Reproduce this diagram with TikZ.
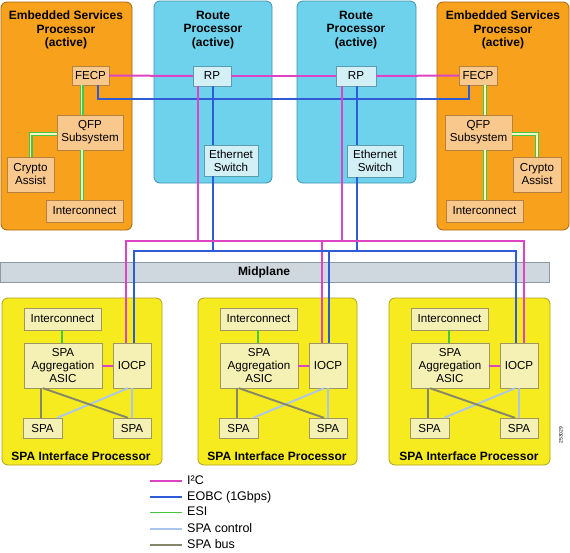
\documentclass[tikz,border=0pt]{standalone}
\usepackage{fontspec}
\setmainfont{Liberation Sans}
\usetikzlibrary{positioning,calc}

\definecolor{espfill}{HTML}{F7A11C}
\definecolor{espline}{HTML}{A8640E}
\definecolor{espboxfill}{HTML}{F9C88C}
\definecolor{espboxline}{HTML}{B8803E}
\definecolor{rpfill}{HTML}{6ED2EC}
\definecolor{rpline}{HTML}{3C94AE}
\definecolor{rpboxfill}{HTML}{D2F0F6}
\definecolor{rpboxline}{HTML}{5B9DAE}
\definecolor{midfill}{HTML}{CFD8DF}
\definecolor{midline}{HTML}{8E989F}
\definecolor{sipfill}{HTML}{F6EB1E}
\definecolor{sipline}{HTML}{B0A21A}
\definecolor{sipboxfill}{HTML}{F5F1B4}
\definecolor{sipboxline}{HTML}{9C9764}
\definecolor{colI2C}{HTML}{DC44C4}
\definecolor{colEOBC}{HTML}{2E5CD8}
\definecolor{colESI}{HTML}{44C844}
\definecolor{colESIcore}{HTML}{F4F8C8}
\definecolor{colSPActl}{HTML}{AAC6EE}
\definecolor{colSPAbus}{HTML}{86866A}

\begin{document}
\begin{tikzpicture}[x=1pt, y=-1pt, font=\fontsize{11.6}{13}\selectfont]
  \tikzstyle{panel}=[rounded corners=6pt, line width=0.8pt, inner sep=0pt]
  \tikzstyle{title}=[font=\fontsize{12}{13.5}\selectfont\bfseries, align=center, inner sep=0pt]
  \tikzstyle{espunit}=[draw=espboxline, fill=espboxfill, inner sep=0pt, align=center]
  \tikzstyle{rpunit}=[draw=rpboxline, fill=rpboxfill, inner sep=0pt, align=center]
  \tikzstyle{sipunit}=[draw=sipboxline, fill=sipboxfill, inner sep=0pt, align=center]
  \tikzstyle{legend}=[anchor=west, inner sep=0pt, text height=1.5ex, text depth=.25ex, font=\fontsize{12.5}{14}\selectfont]
  \tikzstyle{i2c}=[draw=colI2C, line width=2pt]
  \tikzstyle{eobc}=[draw=colEOBC, line width=2pt]
  \tikzstyle{esi}=[draw=colESI, double=colESIcore, double distance=1.4pt, line width=1.3pt]
  \tikzstyle{esithin}=[draw=colESI, line width=1.5pt]
  \tikzstyle{spactl}=[draw=colSPActl, line width=1.9pt]
  \tikzstyle{spabus}=[draw=colSPAbus, line width=1.9pt]

  \useasboundingbox (0,0) rectangle (570,552);

  % Painéis
  \node[panel, draw=espline, fill=espfill, minimum width=131, minimum height=228] (esp1) at (66.5,116) {};
  \node[panel, draw=rpline, fill=rpfill, minimum width=118, minimum height=182] (rpp1) at (213,92) {};
  \node[panel, draw=rpline, fill=rpfill, minimum width=119, minimum height=182] (rpp2) at (356.5,92) {};
  \node[panel, draw=espline, fill=espfill, minimum width=132, minimum height=228] (esp2) at (503,116) {};
  \node[panel, rounded corners=0pt, draw=midline, fill=midfill, minimum width=549, minimum height=20] (midplane) at (274.5,272) {};
  \node[panel, draw=sipline, fill=sipfill, minimum width=160, minimum height=167] (sip1) at (82,381.5) {};
  \node[panel, draw=sipline, fill=sipfill, minimum width=159, minimum height=167] (sip2) at (277.5,381.5) {};
  \node[panel, draw=sipline, fill=sipfill, minimum width=161, minimum height=167] (sip3) at (469.5,381.5) {};

  % Títulos
  \node[title] (esptitle1) at (66,30) {Embedded Services\\Processor\\(active)};
  \node[title] (rptitle1) at (213,30) {Route\\Processor\\(active)};
  \node[title] (rptitle2) at (356,30) {Route\\Processor\\(active)};
  \node[title] (esptitle2) at (503,30) {Embedded Services\\Processor\\(active)};
  \node[title] (midtitle) at (264,272) {Midplane};
  \node[title] (siptitle1) at (81,456) {SPA Interface Processor};
  \node[title] (siptitle2) at (277,456) {SPA Interface Processor};
  \node[title] (siptitle3) at (469,456) {SPA Interface Processor};

  % Blocos
  \node[espunit, minimum width=37, minimum height=19] (fecp1) at (90.5,75.5) {FECP};
  \node[espunit, minimum width=66, minimum height=35] (qfp1) at (90,132.5) {QFP\\Subsystem};
  \node[espunit, minimum width=47, minimum height=35] (crypto1) at (30.5,174.5) {Crypto\\Assist};
  \node[espunit, minimum width=77, minimum height=22] (espic1) at (84.5,211) {Interconnect};
  \node[rpunit, minimum width=38, minimum height=20] (rp1) at (212,76) {RP};
  \node[rpunit, minimum width=54, minimum height=31] (sw1) at (231,160.5) {Ethernet\\Switch};
  \node[rpunit, minimum width=40, minimum height=20] (rp2) at (356,76) {RP};
  \node[rpunit, minimum width=56, minimum height=32] (sw2) at (375,161) {Ethernet\\Switch};
  \node[espunit, minimum width=38, minimum height=19] (fecp2) at (478,75.5) {FECP};
  \node[espunit, minimum width=67, minimum height=35] (qfp2) at (478.5,132.5) {QFP\\Subsystem};
  \node[espunit, minimum width=48, minimum height=35] (crypto2) at (537,174.5) {Crypto\\Assist};
  \node[espunit, minimum width=77, minimum height=22] (espic2) at (484.5,211) {Interconnect};

  \node[sipunit, minimum width=77, minimum height=22] (sipic1) at (62.5,319) {Interconnect};
  \node[sipunit, minimum width=78, minimum height=45] (asic1) at (63,365.5) {SPA\\Aggregation\\ASIC};
  \node[sipunit, minimum width=38, minimum height=45] (iocp1) at (132,365.5) {IOCP};
  \node[sipunit, minimum width=39, minimum height=20] (spaL1) at (42.5,428) {SPA};
  \node[sipunit, minimum width=38, minimum height=20] (spaR1) at (132,428) {SPA};

  \node[sipunit, minimum width=77, minimum height=22] (sipic2) at (258.5,319) {Interconnect};
  \node[sipunit, minimum width=78, minimum height=45] (asic2) at (259,365.5) {SPA\\Aggregation\\ASIC};
  \node[sipunit, minimum width=38, minimum height=45] (iocp2) at (328,365.5) {IOCP};
  \node[sipunit, minimum width=39, minimum height=20] (spaL2) at (238.5,428) {SPA};
  \node[sipunit, minimum width=38, minimum height=20] (spaR2) at (328,428) {SPA};

  \node[sipunit, minimum width=77, minimum height=22] (sipic3) at (449.5,319) {Interconnect};
  \node[sipunit, minimum width=78, minimum height=45] (asic3) at (450,365.5) {SPA\\Aggregation\\ASIC};
  \node[sipunit, minimum width=38, minimum height=45] (iocp3) at (519,365.5) {IOCP};
  \node[sipunit, minimum width=39, minimum height=20] (spaL3) at (429.5,428) {SPA};
  \node[sipunit, minimum width=38, minimum height=20] (spaR3) at (519,428) {SPA};

  \coordinate (busi2c) at (0,241);
  \coordinate (buseobc) at (0,251);

  % Ligações I2C e EOBC
  \draw[i2c] (fecp1.east) -- (rp1.west);
  \draw[i2c] (rp1.east) -- (rp2.west);
  \draw[i2c] (rp2.east) -- (fecp2.west);
  \draw[eobc] ([xshift=7.5pt]fecp1.south) -- ++(0,14) -| ([xshift=-9pt]fecp2.south);

  \draw[i2c] ([xshift=-14pt]rp1.south) -- ([xshift=-14pt]rp1.south |- busi2c);
  \draw[i2c] ([xshift=-14pt]rp2.south) -- ([xshift=-14pt]rp2.south |- busi2c);
  \draw[eobc] ([xshift=1pt]rp1.south) -- ([xshift=1pt]rp1.south |- sw1.north);
  \draw[eobc] ([xshift=1pt]rp1.south |- sw1.south) -- ([xshift=1pt]rp1.south |- buseobc);
  \draw[eobc] ([xshift=1pt]rp2.south) -- ([xshift=1pt]rp2.south |- sw2.north);
  \draw[eobc] ([xshift=1pt]rp2.south |- sw2.south) -- ([xshift=1pt]rp2.south |- buseobc);

  \draw[i2c] ([xshift=-6pt]iocp1.north) |- ([xshift=5pt]iocp3.north |- busi2c) -- ([xshift=5pt]iocp3.north);
  \draw[i2c] ([xshift=-6pt]iocp2.north) -- ([xshift=-6pt]iocp2.north |- busi2c);
  \draw[eobc] ([xshift=2pt]iocp1.north) |- ([xshift=-3pt]iocp3.north |- buseobc) -- ([xshift=-3pt]iocp3.north);
  \draw[eobc] ([xshift=1pt]iocp2.north) -- ([xshift=1pt]iocp2.north |- buseobc);

  % Ligações ESI
  \draw[esi] ([xshift=-9pt]fecp1.south) -- ([xshift=-9pt]fecp1.south |- qfp1.north);
  \draw[esi] ([xshift=-8pt]qfp1.south) -- ([xshift=-8pt]qfp1.south |- espic1.north);
  \draw[esi] ([yshift=-1.5pt]qfp1.west) -| (crypto1.north);
  \draw[esi] ([xshift=7pt]fecp2.south) -- ([xshift=7pt]fecp2.south |- qfp2.north);
  \draw[esi] ([xshift=6.5pt]qfp2.south) -- ([xshift=6.5pt]qfp2.south |- espic2.north);
  \draw[esi] ([yshift=-1.5pt]qfp2.east) -| (crypto2.north);

  % Ligações dentro dos SIP
  \draw[esithin] ([xshift=-1pt]asic1.north) -- ([xshift=-1pt]asic1.north |- sipic1.south);
  \draw[i2c] (asic1.east) -- (iocp1.west);
  \draw[spactl] ([xshift=-4pt]iocp1.south) -- ([xshift=-5pt]spaL1.north east);
  \draw[spactl] (iocp1.south) -- (spaR1.north);
  \draw[spabus] ([xshift=-1.5pt]spaL1.north) -- ([xshift=-1.5pt]spaL1.north |- asic1.south);
  \draw[spabus] ([xshift=-20pt]asic1.south) -- ([xshift=-4pt]spaR1.north);

  \draw[esithin] ([xshift=-1pt]asic2.north) -- ([xshift=-1pt]asic2.north |- sipic2.south);
  \draw[i2c] (asic2.east) -- (iocp2.west);
  \draw[spactl] ([xshift=-4pt]iocp2.south) -- ([xshift=-5pt]spaL2.north east);
  \draw[spactl] (iocp2.south) -- (spaR2.north);
  \draw[spabus] ([xshift=-1.5pt]spaL2.north) -- ([xshift=-1.5pt]spaL2.north |- asic2.south);
  \draw[spabus] ([xshift=-20pt]asic2.south) -- ([xshift=-4pt]spaR2.north);

  \draw[esithin] ([xshift=-1pt]asic3.north) -- ([xshift=-1pt]asic3.north |- sipic3.south);
  \draw[i2c] (asic3.east) -- (iocp3.west);
  \draw[spactl] ([xshift=-4pt]iocp3.south) -- ([xshift=-5pt]spaL3.north east);
  \draw[spactl] (iocp3.south) -- (spaR3.north);
  \draw[spabus] ([xshift=-1.5pt]spaL3.north) -- ([xshift=-1.5pt]spaL3.north |- asic3.south);
  \draw[spabus] ([xshift=-20pt]asic3.south) -- ([xshift=-4pt]spaR3.north);

  % Legenda
  \node[legend] (lgi2c) at (187,481) {I²C};
  \node[legend] (lgeobc) at (187,497) {EOBC (1Gbps)};
  \node[legend] (lgesi) at (187,512.5) {ESI};
  \node[legend] (lgctl) at (187,529) {SPA control};
  \node[legend] (lgbus) at (187,545) {SPA bus};
  \draw[i2c] ([xshift=-5pt]lgi2c.west) -- ++(-32,0);
  \draw[eobc] ([xshift=-5pt]lgeobc.west) -- ++(-32,0);
  \draw[esithin] ([xshift=-5pt]lgesi.west) -- ++(-32,0);
  \draw[spactl] ([xshift=-5pt]lgctl.west) -- ++(-32,0);
  \draw[spabus] ([xshift=-5pt]lgbus.west) -- ++(-32,0);

  \node[rotate=90, inner sep=0pt, font=\fontsize{5}{6}\selectfont] (figid) at (561,435) {253029};
\end{tikzpicture}
\end{document}
